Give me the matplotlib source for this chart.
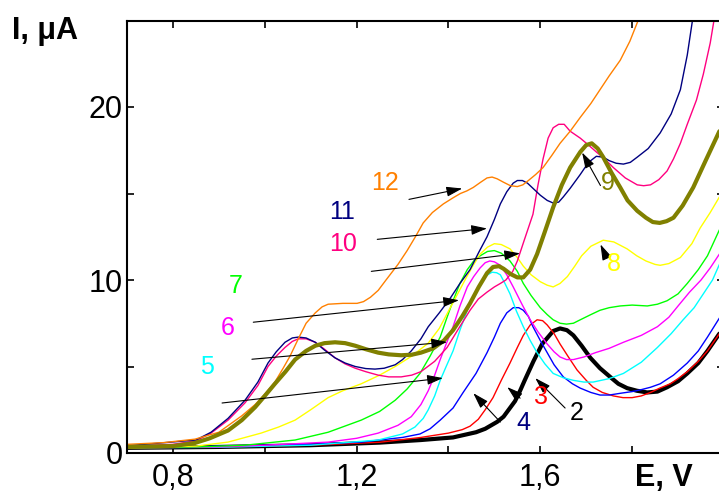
import matplotlib.pyplot as plt
from matplotlib.ticker import MultipleLocator, FuncFormatter

plt.rcParams['font.family'] = ['Liberation Sans', 'DejaVu Sans']

# potential (V) and current (uA) for each curve, numbered as on the plot
e2 = [0.70, 0.90, 1.10, 1.25, 1.34, 1.41, 1.46, 1.48, 1.506, 1.52, 1.545, 1.556, 1.566, 1.585, 1.604, 1.628,
      1.643, 1.658, 1.672, 1.69, 1.709, 1.73, 1.752, 1.77, 1.789, 1.81, 1.833, 1.855, 1.876, 1.90, 1.92, 1.944,
      1.964, 1.99]
i2 = [0.3, 0.35, 0.45, 0.6, 0.75, 0.9, 1.2, 1.4, 1.8, 2.1, 3.0, 3.6, 4.2, 5.3, 6.3, 7.05,
      7.2, 7.1, 6.8, 6.2, 5.5, 4.9, 4.4, 4.0, 3.75, 3.6, 3.5, 3.55, 3.8, 4.15, 4.6, 5.2,
      5.9, 6.9]

e3 = [0.70, 0.90, 1.10, 1.25, 1.34, 1.40, 1.43, 1.447, 1.465, 1.48, 1.497, 1.515, 1.534, 1.55, 1.563, 1.578,
      1.593, 1.605, 1.615, 1.63, 1.643, 1.66, 1.68, 1.70, 1.715, 1.735, 1.759, 1.78, 1.80, 1.82, 1.84, 1.86,
      1.883, 1.90, 1.92, 1.944, 1.964, 1.99]
i3 = [0.3, 0.35, 0.45, 0.62, 0.9, 1.15, 1.35, 1.55, 1.95, 2.5, 3.2, 4.2, 5.2, 6.1, 6.8, 7.4,
      7.7, 7.65, 7.4, 6.9, 6.3, 5.6, 4.8, 4.2, 3.8, 3.5, 3.3, 3.2, 3.2, 3.3, 3.5, 3.75,
      4.0, 4.3, 4.7, 5.3, 5.9, 6.9]

e4 = [0.70, 0.90, 1.10, 1.21, 1.30, 1.338, 1.36, 1.382, 1.41, 1.432, 1.46, 1.484, 1.50, 1.513, 1.527, 1.541,
      1.553, 1.563, 1.574, 1.584, 1.60, 1.615, 1.63, 1.65, 1.67, 1.687, 1.71, 1.73, 1.75, 1.774, 1.80, 1.818,
      1.84, 1.861, 1.89, 1.92, 1.944, 1.964, 1.99]
i4 = [0.3, 0.4, 0.5, 0.63, 0.9, 1.1, 1.4, 1.9, 2.6, 3.5, 4.6, 5.8, 6.7, 7.5, 8.1, 8.4,
      8.4, 8.25, 7.9, 7.3, 6.5, 5.8, 5.1, 4.4, 4.0, 3.75, 3.5, 3.35, 3.35, 3.45, 3.55, 3.65,
      3.8, 4.0, 4.5, 5.2, 5.9, 6.7, 7.8]

e5 = [0.70, 0.90, 1.10, 1.247, 1.30, 1.327, 1.345, 1.356, 1.37, 1.382, 1.395, 1.41, 1.425, 1.441, 1.455, 1.469,
      1.482, 1.495, 1.505, 1.513, 1.523, 1.534, 1.548, 1.563, 1.578, 1.593, 1.61, 1.628, 1.65, 1.672, 1.695, 1.715,
      1.75, 1.781, 1.82, 1.855, 1.885, 1.911, 1.935, 1.955, 1.975, 1.99]
i5 = [0.3, 0.33, 0.45, 0.75, 1.1, 1.5, 2.0, 2.5, 3.3, 4.2, 5.0, 5.9, 7.1, 8.25, 9.1, 9.8,
      10.25, 10.45, 10.42, 10.3, 9.8, 9.2, 8.2, 7.3, 6.5, 5.8, 5.15, 4.6, 4.35, 4.2, 4.1, 4.1,
      4.3, 4.6, 5.25, 6.1, 6.9, 7.7, 8.4, 9.2, 10.0, 10.9]

e6 = [0.70, 0.90, 1.00, 1.138, 1.20, 1.247, 1.29, 1.319, 1.34, 1.356, 1.37, 1.382, 1.395, 1.41, 1.425, 1.441,
      1.455, 1.469, 1.48, 1.49, 1.50, 1.513, 1.527, 1.541, 1.56, 1.578, 1.595, 1.615, 1.63, 1.643, 1.657, 1.672,
      1.695, 1.72, 1.75, 1.781, 1.82, 1.855, 1.88, 1.90, 1.925, 1.95, 1.97, 1.99]
i6 = [0.3, 0.35, 0.45, 0.63, 0.85, 1.15, 1.6, 2.1, 2.8, 3.6, 4.5, 5.4, 6.3, 7.3, 8.5, 9.6,
      10.2, 10.7, 11.0, 11.1, 11.05, 10.85, 10.3, 9.6, 8.6, 7.7, 7.0, 6.3, 5.85, 5.55, 5.4, 5.4,
      5.55, 5.8, 6.05, 6.4, 6.8, 7.3, 7.85, 8.5, 9.3, 10.0, 10.7, 11.5]

e7 = [0.70, 0.85, 0.957, 1.066, 1.138, 1.21, 1.25, 1.284, 1.31, 1.338, 1.36, 1.382, 1.395, 1.41, 1.425, 1.441,
      1.455, 1.469, 1.485, 1.50, 1.515, 1.534, 1.55, 1.563, 1.58, 1.60, 1.615, 1.628, 1.643, 1.657, 1.672, 1.687,
      1.71, 1.73, 1.75, 1.774, 1.80, 1.833, 1.855, 1.876, 1.90, 1.92, 1.944, 1.964, 1.99]
i7 = [0.3, 0.35, 0.45, 0.75, 1.2, 1.9, 2.4, 3.05, 3.7, 4.6, 5.6, 6.7, 7.7, 8.8, 9.8, 10.6,
      11.1, 11.4, 11.65, 11.7, 11.55, 11.1, 10.5, 9.8, 9.1, 8.4, 8.0, 7.7, 7.5, 7.45, 7.5, 7.7,
      8.0, 8.25, 8.4, 8.5, 8.55, 8.5, 8.6, 8.8, 9.2, 9.8, 10.6, 11.4, 12.9]

e8 = [0.70, 0.85, 0.92, 0.992, 1.03, 1.066, 1.10, 1.138, 1.17, 1.21, 1.25, 1.284, 1.32, 1.356, 1.38, 1.40,
      1.42, 1.44, 1.455, 1.469, 1.485, 1.50, 1.515, 1.534, 1.55, 1.563, 1.58, 1.60, 1.615, 1.628, 1.643, 1.659,
      1.675, 1.69, 1.71, 1.737, 1.76, 1.789, 1.81, 1.83, 1.85, 1.861, 1.88, 1.905, 1.93, 1.948, 1.97, 1.99]
i8 = [0.3, 0.4, 0.63, 1.15, 1.5, 1.9, 2.5, 3.2, 3.6, 4.0, 4.5, 5.0, 5.6, 6.35, 7.2, 8.2,
      9.2, 10.2, 10.9, 11.5, 11.9, 12.1, 12.05, 11.8, 11.3, 10.8, 10.3, 9.9, 9.7, 9.6, 9.8, 10.2,
      10.8, 11.4, 11.95, 12.3, 12.2, 11.8, 11.4, 11.1, 10.9, 10.85, 10.95, 11.3, 12.1, 13.0, 13.9, 14.8]

e9 = [0.70, 0.80, 0.848, 0.88, 0.92, 0.95, 0.979, 1.0, 1.022, 1.045, 1.066, 1.09, 1.11, 1.13, 1.153, 1.175,
      1.197, 1.22, 1.247, 1.27, 1.297, 1.32, 1.34, 1.367, 1.39, 1.41, 1.43, 1.447, 1.466, 1.484, 1.497, 1.51,
      1.52, 1.535, 1.55, 1.563, 1.578, 1.593, 1.61, 1.628, 1.647, 1.665, 1.687, 1.70, 1.712, 1.725, 1.737, 1.755,
      1.774, 1.79, 1.811, 1.83, 1.845, 1.86, 1.875, 1.89, 1.91, 1.933, 1.96, 1.99]
i9 = [0.35, 0.4, 0.58, 0.85, 1.3, 1.9, 2.65, 3.3, 4.0, 4.7, 5.4, 5.9, 6.2, 6.35, 6.4, 6.35,
      6.2, 6.0, 5.8, 5.7, 5.65, 5.68, 5.8, 6.05, 6.5, 7.1, 7.9, 8.65, 9.6, 10.4, 10.75, 10.8,
      10.65, 10.35, 10.15, 10.15, 10.6, 11.5, 12.8, 14.2, 15.5, 16.5, 17.4, 17.8, 17.9, 17.6, 17.1, 16.2,
      15.35, 14.6, 14.0, 13.6, 13.35, 13.3, 13.4, 13.6, 14.3, 15.35, 16.9, 18.6]

e10 = [0.70, 0.80, 0.85, 0.883, 0.92, 0.957, 0.985, 1.007, 1.025, 1.044, 1.06, 1.073, 1.09, 1.11, 1.13, 1.153,
       1.175, 1.197, 1.22, 1.247, 1.27, 1.297, 1.32, 1.34, 1.37, 1.397, 1.42, 1.447, 1.465, 1.484, 1.50, 1.513,
       1.525, 1.54, 1.55, 1.565, 1.584, 1.595, 1.606, 1.617, 1.628, 1.64, 1.652, 1.665, 1.687, 1.705, 1.722, 1.74,
       1.759, 1.785, 1.811, 1.825, 1.84, 1.858, 1.876, 1.89, 1.905, 1.92, 1.94, 1.955, 1.97, 1.98]
i10 = [0.4, 0.5, 0.7, 1.15, 1.9, 2.9, 3.9, 5.0, 5.6, 6.1, 6.45, 6.6, 6.6, 6.4, 6.0, 5.5,
       5.15, 4.9, 4.7, 4.5, 4.4, 4.4, 4.5, 4.7, 5.3, 6.1, 7.1, 8.25, 8.9, 9.3, 9.6, 9.8,
       10.0, 10.5, 11.1, 12.3, 13.8, 15.5, 17.0, 18.2, 18.8, 19.0, 19.0, 18.6, 18.2, 17.8, 17.4, 17.0,
       16.5, 15.9, 15.5, 15.45, 15.5, 15.8, 16.3, 17.0, 17.9, 19.0, 20.4, 21.9, 23.7, 25.3]

e11 = [0.70, 0.774, 0.85, 0.883, 0.92, 0.957, 0.985, 1.007, 1.025, 1.044, 1.06, 1.073, 1.09, 1.11, 1.13, 1.153,
       1.175, 1.197, 1.22, 1.24, 1.26, 1.284, 1.30, 1.319, 1.34, 1.356, 1.38, 1.404, 1.425, 1.447, 1.466, 1.484,
       1.50, 1.513, 1.527, 1.541, 1.55, 1.561, 1.572, 1.584, 1.60, 1.615, 1.628, 1.64, 1.65, 1.665, 1.687, 1.705,
       1.722, 1.737, 1.75, 1.765, 1.781, 1.796, 1.811, 1.835, 1.861, 1.885, 1.905, 1.92, 1.933]
i11 = [0.42, 0.58, 0.75, 1.2, 2.0, 3.05, 4.1, 5.2, 5.85, 6.4, 6.65, 6.7, 6.65, 6.4, 5.95, 5.5,
       5.2, 5.0, 4.88, 4.85, 4.9, 5.1, 5.4, 5.9, 6.6, 7.3, 8.1, 8.95, 9.8, 10.6, 11.6, 12.5,
       13.5, 14.4, 15.1, 15.6, 15.75, 15.75, 15.6, 15.3, 14.9, 14.6, 14.45, 14.5, 14.8, 15.3, 16.1, 16.8,
       17.15, 17.1, 16.9, 16.75, 16.7, 16.8, 17.1, 17.6, 18.5, 19.6, 21.0, 23.0, 25.3]

e12 = [0.70, 0.78, 0.848, 0.90, 0.95, 0.979, 1.0, 1.022, 1.04, 1.055, 1.073, 1.09, 1.11, 1.125, 1.138, 1.17,
       1.201, 1.215, 1.23, 1.247, 1.264, 1.29, 1.31, 1.328, 1.345, 1.365, 1.389, 1.41, 1.426, 1.44, 1.454, 1.47,
       1.484, 1.495, 1.506, 1.52, 1.535, 1.55, 1.562, 1.574, 1.59, 1.606, 1.625, 1.643, 1.665, 1.687, 1.71, 1.73,
       1.75, 1.774, 1.795, 1.813]
i12 = [0.5, 0.6, 0.8, 1.2, 2.15, 2.8, 3.4, 4.1, 4.9, 5.6, 6.6, 7.5, 8.1, 8.45, 8.6, 8.65,
       8.65, 8.75, 9.0, 9.4, 10.0, 10.9, 11.7, 12.5, 13.3, 13.9, 14.4, 14.75, 15.0, 15.15, 15.35, 15.65,
       15.9, 15.95, 15.85, 15.65, 15.45, 15.4, 15.5, 15.75, 16.1, 16.5, 17.2, 17.9, 18.6, 19.4, 20.2, 21.0,
       21.8, 22.7, 23.8, 25.0]

curves = [
    (e2, i2, 'black', 3.0),
    (e3, i3, '#ff0000', 1.0),
    (e4, i4, '#0000ff', 1.0),
    (e5, i5, '#00ffff', 1.0),
    (e6, i6, '#ff00ff', 1.0),
    (e7, i7, '#00ff00', 1.0),
    (e8, i8, '#ffff00', 1.0),
    (e10, i10, '#ff0080', 1.0),
    (e11, i11, '#000080', 1.0),
    (e12, i12, '#ff8000', 1.0),
    (e9, i9, '#808000', 3.0),
]

# curve numbers: text position, arrow tail, arrow head, colour
labels = [
    ('12', (1.262, 15.6), (1.314, 14.66), (1.430, 15.29), '#ff8000'),
    ('11', (1.168, 13.95), (1.245, 12.35), (1.484, 12.98), '#000080'),
    ('10', (1.171, 12.1), (1.232, 10.50), (1.556, 11.54), '#ff0080'),
    ('7', (0.937, 9.65), (0.975, 7.56), (1.423, 8.83), '#00ff00'),
    ('6', (0.920, 7.2), (0.972, 5.42), (1.397, 6.41), '#ff00ff'),
    ('5', (0.874, 5.0), (0.907, 2.89), (1.388, 4.33), '#00ffff'),
    ('9', (1.746, 15.6), (1.731, 15.46), (1.691, 17.37), '#808000'),
    ('8', (1.761, 10.95), (1.744, 11.31), (1.731, 12.06), '#ffff00'),
    ('2', (1.680, 2.3), (1.654, 2.60), (1.589, 4.33), 'black'),
    ('3', (1.602, 3.25), (1.556, 3.17), (1.528, 3.81), '#ff0000'),
    ('4', (1.563, 1.75), (1.513, 1.79), (1.454, 3.46), '#000080'),
]

fig = plt.figure(figsize=(7.19, 4.96), dpi=100)
ax = fig.add_axes([127 / 719, 43 / 496, 597 / 719, 432.5 / 496])

for e, i, c, lw in curves:
    ax.plot(e, i, color=c, lw=lw, solid_joinstyle='round', solid_capstyle='round')

for txt, pos, tail, head, c in labels:
    ax.annotate('', xy=head, xytext=tail,
                arrowprops=dict(arrowstyle='-|>,head_length=0.8,head_width=0.25', mutation_scale=12,
                                color='black', lw=0.8, shrinkA=0, shrinkB=0))
    ax.text(pos[0], pos[1], txt, color=c, fontsize=18, ha='center', va='center')

ax.set_xlim(0.7, 2.0)
ax.set_ylim(0, 25)
ax.xaxis.set_major_locator(MultipleLocator(0.4))
ax.xaxis.set_minor_locator(MultipleLocator(0.2))
ax.yaxis.set_major_locator(MultipleLocator(10))
ax.yaxis.set_minor_locator(MultipleLocator(5))
ax.xaxis.set_major_formatter(FuncFormatter(lambda v, p: ('%.1f' % v).replace('.', ',') if v < 1.9 else ''))
ax.tick_params(which='both', direction='in', top=True, right=True, length=5, width=1.2, labelsize=22)
ax.tick_params(axis='x', pad=7)
ax.tick_params(axis='y', pad=3)
for s in ax.spines.values():
    s.set_linewidth(1.5)

fig.text(12 / 719, 1 - 31 / 496, 'I, μA', fontsize=22, fontweight='bold', ha='left', va='center')
fig.text(664 / 719, 1 - 478 / 496, 'E, V', fontsize=22, fontweight='bold', ha='center', va='center')

fig.savefig('out.png', dpi=100)
